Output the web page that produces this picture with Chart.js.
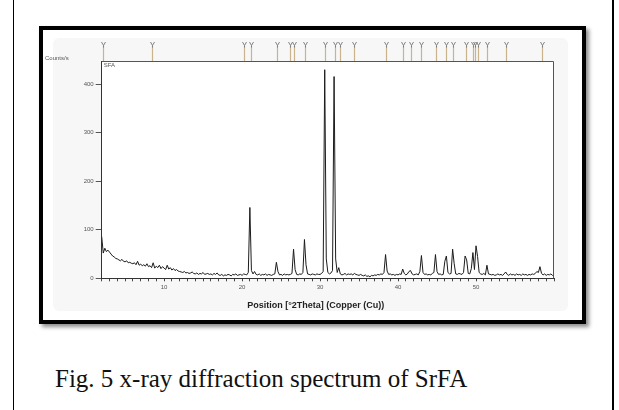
<!DOCTYPE html>
<html lang="en">
  <head>
    <meta charset="UTF-8" />
    <title>XRD - SrFA</title>
    <script src="https://cdn.jsdelivr.net/npm/chart.js"></script>
    <style>
      html, body { margin: 0; padding: 0; background: #fff; }
      body { width: 619px; height: 410px; position: relative; overflow: hidden; }
      .edge { position: absolute; top: 0; width: 1.5px; height: 410px; background: #000; }
      .frame {
        position: absolute; left: 39px; top: 26px; width: 547px; height: 298px;
        box-sizing: border-box; border: 4px solid #000;
        box-shadow: 3px 3px 4px rgba(0, 0, 0, 0.45);
      }
      .panel { position: absolute; left: 53px; top: 38px; width: 515px; height: 273px; background: #f7f7f7; border-radius: 6px; }
      #xrd { position: absolute; left: 44px; top: 30px; }
      .caption {
        position: absolute; left: 55px; top: 365px; margin: 0;
        font-family: "Liberation Serif", serif; font-size: 25px; color: #111; white-space: nowrap;
      }
    </style>
  </head>
  <body>
    <div class="edge" style="left: 12.5px"></div>
    <div class="edge" style="left: 612px"></div>
    <div class="frame"></div>
    <div class="panel"></div>
    <canvas id="xrd" width="538" height="281"></canvas>
    <p class="caption">Fig. 5 x-ray diffraction spectrum of SrFA</p>

    <script>
      // scan: 2.0 .. 60.0 °2θ, one reading every 0.2°
      const thetaStart = 2;
      const thetaStep = 0.2;
      const counts = [
        86, 52, 62, 55, 58, 54, 50, 46, 44, 41,
        40, 38, 36, 39, 35, 34, 36, 32, 33, 31,
        30, 32, 28, 35, 27, 29, 26, 28, 25, 30,
        24, 26, 22, 32, 21, 25, 22, 27, 20, 24,
        21, 18, 27, 19, 22, 17, 20, 16, 18, 15,
        14, 13, 12, 14, 11, 12, 10, 11, 13, 10,
        9, 11, 8, 10, 9, 12, 8, 9, 10, 8,
        9, 7, 10, 8, 11, 7, 6, 8, 5, 7,
        6, 8, 7, 5, 8, 7, 9, 6, 7, 8,
        6, 9, 8, 7, 12, 146, 16, 9, 14, 8,
        7, 9, 6, 8, 7, 9, 6, 8, 7, 6,
        8, 9, 33, 14, 7, 8, 6, 9, 7, 8,
        7, 8, 10, 60, 18, 8, 7, 9, 8, 12,
        80, 28, 9, 8, 7, 9, 8, 7, 9, 8,
        8, 10, 14, 430, 40, 12, 9, 11, 16, 416,
        40, 12, 22, 9, 7, 8, 10, 7, 9, 8,
        9, 7, 10, 8, 7, 6, 8, 6, 5, 7,
        4, 5, 3, 6, 5, 7, 6, 8, 7, 9,
        8, 12, 49, 15, 8, 9, 7, 8, 6, 8,
        7, 9, 8, 19, 10, 7, 9, 14, 16, 9,
        7, 8, 9, 7, 14, 47, 12, 8, 9, 7,
        8, 7, 10, 12, 49, 14, 8, 9, 7, 8,
        35, 46, 12, 9, 10, 60, 30, 9, 8, 10,
        9, 8, 12, 46, 38, 10, 9, 20, 53, 18,
        67, 45, 12, 9, 8, 10, 7, 27, 9, 8,
        7, 8, 6, 7, 9, 7, 8, 6, 9, 13,
        8, 6, 9, 7, 8, 6, 9, 7, 8, 6,
        9, 7, 8, 6, 8, 7, 9, 8, 10, 14,
        12, 24, 10, 7, 9, 6, 8, 7, 9, 6,
        8,
      ];
      const twoTheta = counts.map((_, i) => +(thetaStart + i * thetaStep).toFixed(1));

      // reference pattern lines shown above the plot
      const refLines = [
        2.2, 8.5, 20.2, 21.1, 24.5, 26.1, 26.7, 28.1, 30.6, 31.9, 32.6, 34.3, 38.5,
        40.6, 41.6, 43.0, 44.9, 46.1, 47.1, 48.7, 49.6, 49.9, 50.2, 51.4, 53.8, 58.4,
      ];
      const yTicks = [0, 100, 200, 300, 400];
      const xLabels = [10, 20, 30, 40, 50];
      const xTitle = "Position [°2Theta] (Copper (Cu))";

      const tickFont = { family: "Liberation Sans", size: 6 };

      const extras = {
        id: "extras",
        beforeDraw(chart) {
          const { ctx, chartArea: a } = chart;
          ctx.save();
          ctx.fillStyle = "#fff";
          ctx.fillRect(a.left, a.top, a.right - a.left, a.bottom - a.top);
          ctx.restore();
        },
        afterDraw(chart) {
          const { ctx, chartArea: a, scales } = chart;
          ctx.save();
          // top and right edge of the plot box
          ctx.strokeStyle = "#555";
          ctx.lineWidth = 1;
          ctx.beginPath();
          ctx.moveTo(a.left, a.top + 0.5);
          ctx.lineTo(a.right - 0.5, a.top + 0.5);
          ctx.lineTo(a.right - 0.5, a.bottom);
          ctx.stroke();

          // reference markers
          refLines.forEach((t) => {
            const x = Math.round(scales.x.getPixelForValue(t)) + 0.5;
            ctx.strokeStyle = "#c9b48e";
            ctx.lineWidth = 1.2;
            ctx.beginPath();
            ctx.moveTo(x, 16);
            ctx.lineTo(x, a.top);
            ctx.stroke();
            ctx.strokeStyle = "#777";
            ctx.lineWidth = 0.9;
            ctx.beginPath();
            ctx.moveTo(x - 2, 12);
            ctx.lineTo(x, 15.5);
            ctx.lineTo(x + 2, 12);
            ctx.moveTo(x, 15.5);
            ctx.lineTo(x, 17.5);
            ctx.stroke();
          });

          ctx.fillStyle = "#555";
          ctx.font = "6px 'Liberation Sans'";
          ctx.textBaseline = "middle";
          ctx.textAlign = "left";
          ctx.fillText("Counts/s", 1, a.top - 3);
          ctx.fillText("SFA", a.left + 2, a.top + 4);

          // axis title sits a little left of the plot centre in the original
          ctx.fillStyle = "#222";
          ctx.font = "bold 9px 'Liberation Sans'";
          ctx.textAlign = "center";
          ctx.fillText(xTitle, a.left + 214, a.bottom + 27);
          ctx.restore();
        },
      };

      new Chart(document.getElementById("xrd"), {
        type: "line",
        data: {
          datasets: [
            {
              data: twoTheta.map((t, i) => ({ x: t, y: counts[i] })),
              borderColor: "#1c1c1c",
              borderWidth: 1,
              pointRadius: 0,
              tension: 0,
            },
          ],
        },
        options: {
          responsive: false,
          animation: false,
          layout: { padding: { left: 0, top: 31, right: 28, bottom: 0 } },
          plugins: { legend: { display: false }, tooltip: { enabled: false } },
          scales: {
            x: {
              type: "linear",
              min: 2,
              max: 60,
              ticks: {
                stepSize: 1,
                autoSkip: false,
                maxRotation: 0,
                includeBounds: false,
                font: tickFont,
                color: "#555",
                padding: 2,
                callback: (v) => (xLabels.includes(v) ? v : ""),
              },
              grid: { drawOnChartArea: false, tickLength: 3, color: "#444" },
              border: { color: "#333", width: 1 },
              afterFit: (s) => { s.height = 32.7; },
            },
            y: {
              min: 0,
              max: 448,
              afterBuildTicks: (s) => { s.ticks = yTicks.map((v) => ({ value: v })); },
              ticks: { font: tickFont, color: "#555", padding: 2 },
              grid: { drawOnChartArea: false, tickLength: 6, color: "#555" },
              border: { color: "#333", width: 1 },
              afterFit: (s) => { s.width = 57.7; },
            },
          },
        },
        plugins: [extras],
      });
    </script>
  </body>
</html>
